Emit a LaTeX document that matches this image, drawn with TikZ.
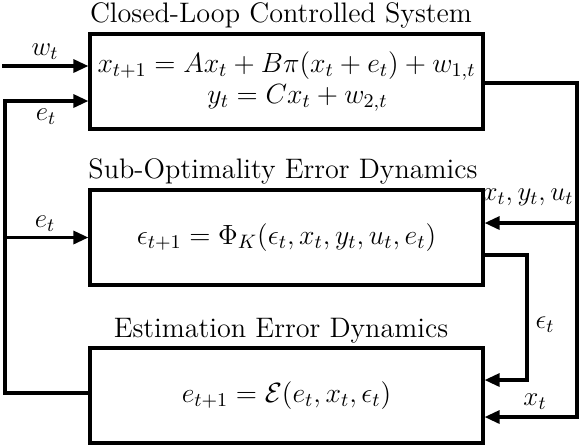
\RequirePackage{fix-cm}
\documentclass[tikz,border=0pt]{standalone}
\usepackage{amsmath}
\usetikzlibrary{arrows.meta}
\begin{document}
\begin{tikzpicture}[x=0.5pt,y=-0.5pt, line width=1.6pt,
  blk/.style={draw, minimum width=196.5pt, minimum height=47.5pt, inner sep=0pt, line width=1.6pt, align=center},
  ttl/.style={anchor=base, inner sep=0pt, font=\fontsize{14.1}{17}\selectfont},
  lbl/.style={inner sep=0pt, font=\fontsize{13.5}{15}\selectfont},
  arr/.style={-{Triangle[length=7.5pt,width=6.5pt]}},
  font=\fontsize{13.9}{15.5}\selectfont]
\useasboundingbox (0,0) rectangle (581,447);
\node[blk] (b1) at (286.5,81.5) {$x_{t+1} = Ax_t + B\pi(x_t+e_t) + w_{1,t}$\\ \hspace*{11pt}$y_t = Cx_t + w_{2,t}$};
\node[blk] (b2) at (286.5,237.5) {$\epsilon_{t+1} = \Phi_K(\epsilon_t, x_t, y_t, u_t, e_t)$};
\node[blk] (b3) at (286.5,395.5) {$e_{t+1} = \mathcal{E}(e_t, x_t, \epsilon_t)$};
\node[ttl] (t1) at (281,22) {Closed-Loop Controlled System};
\node[ttl] (t2) at (283,178) {Sub-Optimality Error Dynamics};
\node[ttl] (t3) at (281,337) {Estimation Error Dynamics};
% left side
\coordinate (w0) at (2,66);
\coordinate (e1) at (5,101);
\coordinate (e3) at (5,393);
\draw[arr] (w0) -- (w0 -| b1.west);
\draw[arr] (b3.west |- e3) -- (e3) -- (e1) -- (e1 -| b1.west);
\draw[arr] (e1 |- b2.west) -- (b2.west);
% right side
\coordinate (r1) at (577,83);
\coordinate (r2) at (577,223);
\coordinate (r3) at (577,417);
\draw[arr] (r1 -| b1.east) -- (r1) -- (r3) -- (r3 -| b3.east);
\draw[arr] (r2) -- (r2 -| b2.east);
\coordinate (q1) at (527,255);
\coordinate (q2) at (527,380);
\draw[arr] (q1 -| b2.east) -- (q1) -- (q2) -- (q2 -| b3.east);
% labels
\node[lbl] (lw) at (45,52) {$w_t$};
\node[lbl] (le1) at (46,117) {$e_t$};
\node[lbl] (le2) at (45,224) {$e_t$};
\node[lbl] (lxyu) at (528,197) {$x_t, y_t, u_t$};
\node[lbl] (leps) at (545,325) {$\epsilon_t$};
\node[lbl] (lx) at (535,402) {$x_t$};
\end{tikzpicture}
\end{document}
